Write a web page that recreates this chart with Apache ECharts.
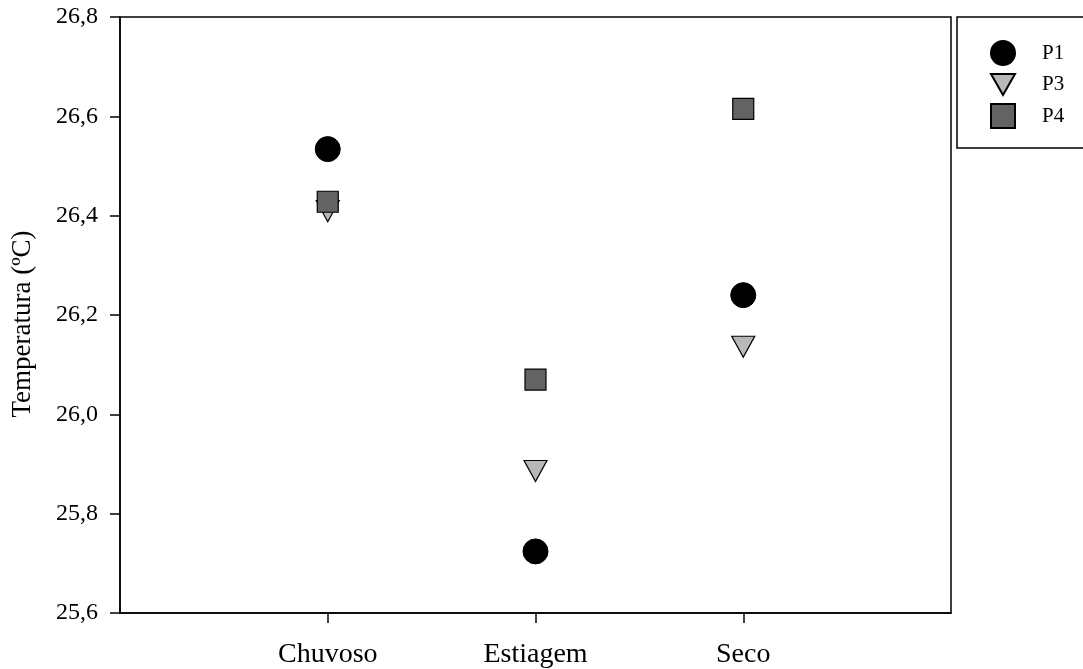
<!DOCTYPE html>
<html>
<head>
<meta charset="utf-8">
<script src="https://cdn.jsdelivr.net/npm/echarts@6/dist/echarts.min.js"></script>
<style>html,body{margin:0;padding:0;background:#fff}#c{width:1083px;height:669px}</style>
</head>
<body>
<div id="c"></div>
<script>
const categories = ['Chuvoso', 'Estiagem', 'Seco'];
const p1 = [26.534, 25.724, 26.240];
const p3 = [26.409, 25.886, 26.136];
const p4 = [26.428, 26.070, 26.615];
const yTicks = [25.6, 25.8, 26.0, 26.2, 26.4, 26.6, 26.8];

const axisCats = [''].concat(categories, ['']);
const pad = a => [null].concat(a, [null]);
const font = 'Liberation Serif';
const triDown = 'path://M0,0 L24,0 L12,21 Z';

const chart = echarts.init(document.getElementById('c'), null, {renderer: 'canvas'});
chart.setOption({
  animation: false,
  backgroundColor: '#fff',
  grid: {left: 120, right: 132, top: 17, bottom: 56, show: true, borderColor: '#000', borderWidth: 1.5, backgroundColor: 'transparent'},
  legend: {
    orient: 'vertical', left: 957, top: 17,
    padding: [23, 80, 19, 33],
    itemWidth: 24, itemHeight: 24, itemGap: 7,
    borderColor: '#000', borderWidth: 1.5,
    textStyle: {fontFamily: font, fontSize: 21, color: '#000', padding: [0, 0, 0, 22]},
    data: ['P1', 'P3', 'P4']
  },
  xAxis: {
    type: 'category', data: axisCats, boundaryGap: false,
    axisLine: {lineStyle: {color: '#000', width: 1.5}},
    axisTick: {inside: false, length: 10, lineStyle: {color: '#000', width: 1.5}, interval: (i) => i >= 1 && i <= categories.length},
    axisLabel: {interval: (i) => i >= 1 && i <= categories.length, margin: 28, fontFamily: font, fontSize: 28, color: '#000'},
    splitLine: {show: false}
  },
  yAxis: {
    type: 'value', min: yTicks[0], max: yTicks[yTicks.length - 1], interval: 0.2,
    name: 'Temperatura (ºC)', nameLocation: 'middle', nameGap: 84,
    nameTextStyle: {fontFamily: font, fontSize: 27, color: '#000', padding: [0, 18, 0, 0]},
    axisLine: {show: true, lineStyle: {color: '#000', width: 1.5}},
    axisTick: {show: true, inside: false, length: 10, lineStyle: {color: '#000', width: 1.5}},
    axisLabel: {margin: 22, fontFamily: font, fontSize: 24, color: '#000', formatter: v => v.toFixed(1).replace('.', ',')},
    splitLine: {show: false}
  },
  series: [
    {name: 'P1', type: 'scatter', data: pad(p1), symbol: 'circle', symbolSize: 25,
     itemStyle: {color: '#000', borderColor: '#000', borderWidth: 1, opacity: 1}, z: 3},
    {name: 'P3', type: 'scatter', data: pad(p3), symbol: triDown, symbolSize: [23, 21],
     itemStyle: {color: '#b8b8b8', borderColor: '#000', borderWidth: 1.2, opacity: 1}, z: 4},
    {name: 'P4', type: 'scatter', data: pad(p4), symbol: 'rect', symbolSize: 21,
     itemStyle: {color: '#636363', borderColor: '#000', borderWidth: 1.2, opacity: 1}, z: 5}
  ]
});
</script>
</body>
</html>
